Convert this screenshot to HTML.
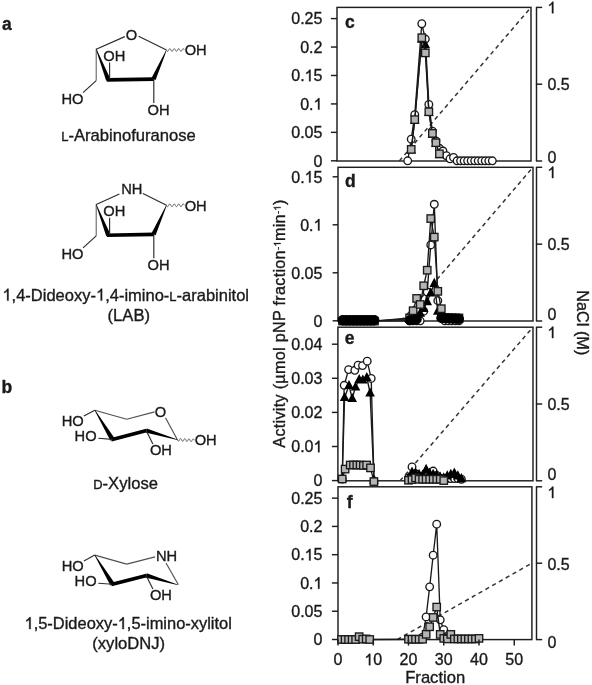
<!DOCTYPE html><html><head><meta charset="utf-8"><style>html,body{margin:0;padding:0;background:#fff;}body{width:592px;height:685px;overflow:hidden;}svg{display:block;will-change:transform;}text{font-family:"Liberation Sans", sans-serif;fill:#1a1a1a;stroke:#1a1a1a;stroke-width:0.35px;}.one{fill-opacity:0;stroke-opacity:0;}</style></head><body>
<svg width="592" height="685" viewBox="0 0 592 685">
<rect width="592" height="685" fill="#fff"/>
<text x="2.0" y="30.2" font-size="17.5" text-anchor="start" font-weight="bold" fill="#000">a</text>
<text x="1.4" y="392.9" font-size="17.5" text-anchor="start" font-weight="bold" fill="#000">b</text>
<line x1="96.20" y1="49.20" x2="124.80" y2="36.60" stroke="#2a2a2a" stroke-width="1.15"/>
<line x1="138.60" y1="36.20" x2="166.50" y2="50.00" stroke="#2a2a2a" stroke-width="1.15"/>
<text x="131.5" y="40.1" font-size="14.7" text-anchor="middle" font-weight="normal" >O</text>
<line x1="96.20" y1="48.70" x2="96.20" y2="80.60" stroke="#555" stroke-width="1.0"/>
<line x1="96.20" y1="80.60" x2="83.00" y2="92.60" stroke="#2a2a2a" stroke-width="1.15"/>
<text x="61.4" y="103.6" font-size="14.7" text-anchor="start" font-weight="normal" >HO</text>
<polygon points="95.92,49.31 106.16,80.74 110.44,79.06 96.48,49.09" fill="#000"/>
<polygon points="155.60,80.04 166.77,50.12 166.23,49.88 151.40,78.16" fill="#000"/>
<line x1="106.80" y1="79.90" x2="154.00" y2="79.10" stroke="#000" stroke-width="3.6"/>
<line x1="109.60" y1="78.90" x2="109.60" y2="62.50" stroke="#2a2a2a" stroke-width="1.15"/>
<text x="103.3" y="60.6" font-size="14.7" text-anchor="start" font-weight="normal" >OH</text>
<line x1="153.80" y1="79.10" x2="153.80" y2="103.00" stroke="#2a2a2a" stroke-width="1.15"/>
<text x="147.6" y="115.0" font-size="14.7" text-anchor="start" font-weight="normal" >OH</text>
<polyline points="166.50,50.00 166.80,50.57 167.09,51.04 167.39,51.33 167.69,51.39 167.98,51.21 168.28,50.82 168.58,50.29 168.87,49.71 169.17,49.18 169.47,48.79 169.76,48.61 170.06,48.67 170.36,48.96 170.65,49.43 170.95,50.00 171.25,50.57 171.54,51.04 171.84,51.33 172.14,51.39 172.43,51.21 172.73,50.82 173.03,50.29 173.32,49.71 173.62,49.18 173.92,48.79 174.21,48.61 174.51,48.67 174.81,48.96 175.10,49.43 175.40,50.00 175.70,50.57 175.99,51.04 176.29,51.33 176.59,51.39 176.88,51.21 177.18,50.82 177.48,50.29 177.77,49.71 178.07,49.18 178.37,48.79 178.66,48.61 178.96,48.67 179.26,48.96 179.55,49.43 179.85,50.00 180.15,50.57 180.44,51.04 180.74,51.33 181.04,51.39 181.33,51.21 181.63,50.82 181.93,50.29 182.22,49.71 182.52,49.18 182.82,48.79 183.11,48.61 183.41,48.67 183.71,48.96 184.00,49.43 184.30,50.00" fill="none" stroke="#555" stroke-width="0.95"/>
<text x="184.7" y="55.2" font-size="14.7" text-anchor="start" font-weight="normal" >OH</text>
<line x1="96.20" y1="204.50" x2="119.40" y2="194.10" stroke="#2a2a2a" stroke-width="1.15"/>
<line x1="142.90" y1="193.60" x2="166.50" y2="205.30" stroke="#2a2a2a" stroke-width="1.15"/>
<text x="121.2" y="194.2" font-size="14.7" text-anchor="start" font-weight="normal" >NH</text>
<line x1="96.20" y1="204.00" x2="96.20" y2="235.90" stroke="#555" stroke-width="1.0"/>
<line x1="96.20" y1="235.90" x2="83.00" y2="247.90" stroke="#2a2a2a" stroke-width="1.15"/>
<text x="61.4" y="258.9" font-size="14.7" text-anchor="start" font-weight="normal" >HO</text>
<polygon points="95.92,204.61 106.16,236.04 110.44,234.36 96.48,204.39" fill="#000"/>
<polygon points="155.60,235.34 166.77,205.42 166.23,205.18 151.40,233.46" fill="#000"/>
<line x1="106.80" y1="235.20" x2="154.00" y2="234.40" stroke="#000" stroke-width="3.6"/>
<line x1="109.60" y1="234.20" x2="109.60" y2="217.80" stroke="#2a2a2a" stroke-width="1.15"/>
<text x="103.3" y="215.9" font-size="14.7" text-anchor="start" font-weight="normal" >OH</text>
<line x1="153.80" y1="234.40" x2="153.80" y2="258.30" stroke="#2a2a2a" stroke-width="1.15"/>
<text x="147.6" y="270.3" font-size="14.7" text-anchor="start" font-weight="normal" >OH</text>
<polyline points="166.50,205.30 166.80,205.87 167.09,206.34 167.39,206.63 167.69,206.69 167.98,206.51 168.28,206.12 168.58,205.59 168.87,205.01 169.17,204.48 169.47,204.09 169.76,203.91 170.06,203.97 170.36,204.26 170.65,204.73 170.95,205.30 171.25,205.87 171.54,206.34 171.84,206.63 172.14,206.69 172.43,206.51 172.73,206.12 173.03,205.59 173.32,205.01 173.62,204.48 173.92,204.09 174.21,203.91 174.51,203.97 174.81,204.26 175.10,204.73 175.40,205.30 175.70,205.87 175.99,206.34 176.29,206.63 176.59,206.69 176.88,206.51 177.18,206.12 177.48,205.59 177.77,205.01 178.07,204.48 178.37,204.09 178.66,203.91 178.96,203.97 179.26,204.26 179.55,204.73 179.85,205.30 180.15,205.87 180.44,206.34 180.74,206.63 181.04,206.69 181.33,206.51 181.63,206.12 181.93,205.59 182.22,205.01 182.52,204.48 182.82,204.09 183.11,203.91 183.41,203.97 183.71,204.26 184.00,204.73 184.30,205.30" fill="none" stroke="#555" stroke-width="0.95"/>
<text x="184.7" y="210.5" font-size="14.7" text-anchor="start" font-weight="normal" >OH</text>
<line x1="94.80" y1="410.20" x2="126.70" y2="419.20" stroke="#505050" stroke-width="1.15"/>
<line x1="126.70" y1="419.20" x2="154.60" y2="411.90" stroke="#505050" stroke-width="1.15"/>
<text x="160.5" y="416.5" font-size="14.7" text-anchor="middle" font-weight="normal" >O</text>
<line x1="165.50" y1="417.80" x2="177.40" y2="439.80" stroke="#505050" stroke-width="1.15"/>
<polyline points="177.40,439.80 177.68,440.38 177.96,440.86 178.25,441.16 178.53,441.23 178.81,441.05 179.09,440.67 179.37,440.15 179.65,439.58 179.94,439.05 180.22,438.67 180.50,438.50 180.78,438.57 181.06,438.87 181.34,439.35 181.62,439.93 181.91,440.50 182.19,440.98 182.47,441.28 182.75,441.35 183.03,441.18 183.31,440.80 183.60,440.27 183.88,439.70 184.16,439.18 184.44,438.80 184.72,438.62 185.00,438.69 185.29,438.99 185.57,439.47 185.85,440.05 186.13,440.63 186.41,441.11 186.70,441.41 186.98,441.48 187.26,441.30 187.54,440.92 187.82,440.40 188.10,439.83 188.39,439.30 188.67,438.92 188.95,438.75 189.23,438.82 189.51,439.12 189.79,439.60 190.08,440.18 190.36,440.75 190.64,441.23 190.92,441.53 191.20,441.60 191.48,441.43 191.77,441.05 192.05,440.52 192.33,439.95 192.61,439.43 192.89,439.05 193.17,438.87 193.46,438.94 193.74,439.24 194.02,439.72 194.30,440.30" fill="none" stroke="#555" stroke-width="0.95"/>
<text x="194.7" y="444.6" font-size="14.7" text-anchor="start" font-weight="normal" >OH</text>
<line x1="94.80" y1="410.20" x2="83.90" y2="416.00" stroke="#2a2a2a" stroke-width="1.15"/>
<text x="61.7" y="426.4" font-size="14.7" text-anchor="start" font-weight="normal" >HO</text>
<polygon points="94.54,410.36 110.45,440.64 114.55,438.16 95.06,410.04" fill="#000"/>
<line x1="111.30" y1="439.70" x2="146.60" y2="430.50" stroke="#000" stroke-width="3.6"/>
<polygon points="145.47,432.61 177.31,440.09 177.49,439.51 146.73,428.39" fill="#000"/>
<line x1="112.50" y1="439.40" x2="98.30" y2="438.30" stroke="#2a2a2a" stroke-width="1.15"/>
<text x="74.6" y="441.2" font-size="14.7" text-anchor="start" font-weight="normal" >HO</text>
<line x1="146.10" y1="430.50" x2="152.90" y2="444.00" stroke="#2a2a2a" stroke-width="1.15"/>
<text x="149.9" y="454.8" font-size="14.7" text-anchor="start" font-weight="normal" >OH</text>
<line x1="94.80" y1="555.10" x2="126.70" y2="564.10" stroke="#505050" stroke-width="1.15"/>
<line x1="126.70" y1="564.10" x2="155.10" y2="556.90" stroke="#505050" stroke-width="1.15"/>
<text x="155.9" y="560.7" font-size="14.7" text-anchor="start" font-weight="normal" >NH</text>
<line x1="166.00" y1="563.00" x2="178.40" y2="584.70" stroke="#505050" stroke-width="1.15"/>
<line x1="94.80" y1="555.10" x2="83.90" y2="560.90" stroke="#2a2a2a" stroke-width="1.15"/>
<text x="61.7" y="571.3" font-size="14.7" text-anchor="start" font-weight="normal" >HO</text>
<polygon points="94.54,555.26 110.45,585.54 114.55,583.06 95.06,554.94" fill="#000"/>
<line x1="111.30" y1="584.60" x2="146.60" y2="575.40" stroke="#000" stroke-width="3.6"/>
<polygon points="145.47,577.51 177.31,584.99 177.49,584.41 146.73,573.29" fill="#000"/>
<line x1="112.50" y1="584.30" x2="98.30" y2="583.20" stroke="#2a2a2a" stroke-width="1.15"/>
<text x="74.6" y="586.1" font-size="14.7" text-anchor="start" font-weight="normal" >HO</text>
<line x1="146.10" y1="575.40" x2="152.90" y2="588.90" stroke="#2a2a2a" stroke-width="1.15"/>
<text x="149.9" y="599.7" font-size="14.7" text-anchor="start" font-weight="normal" >OH</text>
<text x="61.2" y="141.2" font-size="16.6" text-anchor="start" font-weight="normal" ><tspan font-size="13">L</tspan>-Arabinofuranose</text>
<text x="2.4" y="300.6" font-size="16.5" text-anchor="start" font-weight="normal" ><tspan class="one">1</tspan>,4-Dideoxy-<tspan class="one">1</tspan>,4-imino-<tspan font-size="13">L</tspan>-arabinitol</text>
<text x="128.8" y="320.9" font-size="16.6" text-anchor="middle" font-weight="normal" >(LAB)</text>
<text x="93.2" y="488.9" font-size="16.6" text-anchor="start" font-weight="normal" ><tspan font-size="13">D</tspan>-Xylose</text>
<text x="128.2" y="629.0" font-size="16.45" text-anchor="middle" font-weight="normal" ><tspan class="one">1</tspan>,5-Dideoxy-<tspan class="one">1</tspan>,5-imino-xylitol</text>
<text x="128.7" y="649.1" font-size="16.6" text-anchor="middle" font-weight="normal" >(xyloDNJ)</text>
<rect x="337.0" y="7.4" width="194.0" height="153.6" fill="none" stroke="#1e1e1e" stroke-width="1.45"/>
<line x1="330.90" y1="18.60" x2="337.00" y2="18.60" stroke="#1e1e1e" stroke-width="1.45"/>
<text x="322.4" y="24.300000000000022" font-size="16" text-anchor="end" font-weight="normal" >0.25</text>
<line x1="330.90" y1="47.04" x2="337.00" y2="47.04" stroke="#1e1e1e" stroke-width="1.45"/>
<text x="322.4" y="52.74000000000002" font-size="16" text-anchor="end" font-weight="normal" >0.2</text>
<line x1="330.90" y1="75.48" x2="337.00" y2="75.48" stroke="#1e1e1e" stroke-width="1.45"/>
<text x="322.4" y="81.18000000000002" font-size="16" text-anchor="end" font-weight="normal" >0.<tspan class="one">1</tspan>5</text>
<line x1="330.90" y1="103.92" x2="337.00" y2="103.92" stroke="#1e1e1e" stroke-width="1.45"/>
<text x="322.4" y="109.62000000000002" font-size="16" text-anchor="end" font-weight="normal" >0.<tspan class="one">1</tspan></text>
<line x1="330.90" y1="132.36" x2="337.00" y2="132.36" stroke="#1e1e1e" stroke-width="1.45"/>
<text x="322.4" y="138.06" font-size="16" text-anchor="end" font-weight="normal" >0.05</text>
<line x1="330.90" y1="160.80" x2="337.00" y2="160.80" stroke="#1e1e1e" stroke-width="1.45"/>
<text x="322.4" y="166.5" font-size="16" text-anchor="end" font-weight="normal" >0</text>
<line x1="536.50" y1="7.40" x2="536.50" y2="161.00" stroke="#1e1e1e" stroke-width="1.45"/>
<line x1="535.90" y1="7.40" x2="542.20" y2="7.40" stroke="#1e1e1e" stroke-width="1.45"/>
<text x="547.4" y="13.3" font-size="16" text-anchor="start" font-weight="normal" ><tspan class="one">1</tspan></text>
<line x1="535.90" y1="84.20" x2="542.20" y2="84.20" stroke="#1e1e1e" stroke-width="1.45"/>
<text x="547.4" y="90.3" font-size="16" text-anchor="start" font-weight="normal" >0.5</text>
<line x1="535.90" y1="161.00" x2="542.20" y2="161.00" stroke="#1e1e1e" stroke-width="1.45"/>
<text x="547.4" y="163.3" font-size="16" text-anchor="start" font-weight="normal" >0</text>
<rect x="338.0" y="167.3" width="195.0" height="153.7" fill="none" stroke="#1e1e1e" stroke-width="1.45"/>
<line x1="332.60" y1="176.80" x2="338.00" y2="176.80" stroke="#1e1e1e" stroke-width="1.45"/>
<text x="322.4" y="182.5" font-size="16" text-anchor="end" font-weight="normal" >0.<tspan class="one">1</tspan>5</text>
<line x1="332.60" y1="224.80" x2="338.00" y2="224.80" stroke="#1e1e1e" stroke-width="1.45"/>
<text x="322.4" y="230.5" font-size="16" text-anchor="end" font-weight="normal" >0.<tspan class="one">1</tspan></text>
<line x1="332.60" y1="272.80" x2="338.00" y2="272.80" stroke="#1e1e1e" stroke-width="1.45"/>
<text x="322.4" y="278.5" font-size="16" text-anchor="end" font-weight="normal" >0.05</text>
<line x1="332.60" y1="320.80" x2="338.00" y2="320.80" stroke="#1e1e1e" stroke-width="1.45"/>
<text x="322.4" y="326.5" font-size="16" text-anchor="end" font-weight="normal" >0</text>
<line x1="536.50" y1="167.30" x2="536.50" y2="321.00" stroke="#1e1e1e" stroke-width="1.45"/>
<line x1="535.90" y1="167.30" x2="542.20" y2="167.30" stroke="#1e1e1e" stroke-width="1.45"/>
<text x="547.4" y="178.1" font-size="16" text-anchor="start" font-weight="normal" ><tspan class="one">1</tspan></text>
<line x1="535.90" y1="244.15" x2="542.20" y2="244.15" stroke="#1e1e1e" stroke-width="1.45"/>
<text x="547.4" y="250.3" font-size="16" text-anchor="start" font-weight="normal" >0.5</text>
<line x1="535.90" y1="321.00" x2="542.20" y2="321.00" stroke="#1e1e1e" stroke-width="1.45"/>
<text x="547.4" y="320.0" font-size="16" text-anchor="start" font-weight="normal" >0</text>
<rect x="337.9" y="327.2" width="195.10000000000002" height="153.60000000000002" fill="none" stroke="#1e1e1e" stroke-width="1.45"/>
<line x1="331.90" y1="344.20" x2="337.90" y2="344.20" stroke="#1e1e1e" stroke-width="1.45"/>
<text x="322.4" y="349.90000000000003" font-size="16" text-anchor="end" font-weight="normal" >0.04</text>
<line x1="331.90" y1="378.30" x2="337.90" y2="378.30" stroke="#1e1e1e" stroke-width="1.45"/>
<text x="322.4" y="384.0" font-size="16" text-anchor="end" font-weight="normal" >0.03</text>
<line x1="331.90" y1="412.40" x2="337.90" y2="412.40" stroke="#1e1e1e" stroke-width="1.45"/>
<text x="322.4" y="418.1" font-size="16" text-anchor="end" font-weight="normal" >0.02</text>
<line x1="331.90" y1="446.50" x2="337.90" y2="446.50" stroke="#1e1e1e" stroke-width="1.45"/>
<text x="322.4" y="452.2" font-size="16" text-anchor="end" font-weight="normal" >0.0<tspan class="one">1</tspan></text>
<line x1="331.90" y1="480.60" x2="337.90" y2="480.60" stroke="#1e1e1e" stroke-width="1.45"/>
<text x="322.4" y="486.3" font-size="16" text-anchor="end" font-weight="normal" >0</text>
<line x1="536.50" y1="327.20" x2="536.50" y2="480.80" stroke="#1e1e1e" stroke-width="1.45"/>
<line x1="535.90" y1="327.20" x2="542.20" y2="327.20" stroke="#1e1e1e" stroke-width="1.45"/>
<text x="547.4" y="338.1" font-size="16" text-anchor="start" font-weight="normal" ><tspan class="one">1</tspan></text>
<line x1="535.90" y1="404.00" x2="542.20" y2="404.00" stroke="#1e1e1e" stroke-width="1.45"/>
<text x="547.4" y="409.6" font-size="16" text-anchor="start" font-weight="normal" >0.5</text>
<line x1="535.90" y1="480.80" x2="542.20" y2="480.80" stroke="#1e1e1e" stroke-width="1.45"/>
<text x="547.4" y="480.0" font-size="16" text-anchor="start" font-weight="normal" >0</text>
<rect x="338.0" y="486.8" width="193.89999999999998" height="152.8" fill="none" stroke="#1e1e1e" stroke-width="1.45"/>
<line x1="331.90" y1="498.15" x2="338.00" y2="498.15" stroke="#1e1e1e" stroke-width="1.45"/>
<text x="322.4" y="503.84999999999997" font-size="16" text-anchor="end" font-weight="normal" >0.25</text>
<line x1="331.90" y1="526.42" x2="338.00" y2="526.42" stroke="#1e1e1e" stroke-width="1.45"/>
<text x="322.4" y="532.12" font-size="16" text-anchor="end" font-weight="normal" >0.2</text>
<line x1="331.90" y1="554.69" x2="338.00" y2="554.69" stroke="#1e1e1e" stroke-width="1.45"/>
<text x="322.4" y="560.3900000000001" font-size="16" text-anchor="end" font-weight="normal" >0.<tspan class="one">1</tspan>5</text>
<line x1="331.90" y1="582.96" x2="338.00" y2="582.96" stroke="#1e1e1e" stroke-width="1.45"/>
<text x="322.4" y="588.6600000000001" font-size="16" text-anchor="end" font-weight="normal" >0.<tspan class="one">1</tspan></text>
<line x1="331.90" y1="611.23" x2="338.00" y2="611.23" stroke="#1e1e1e" stroke-width="1.45"/>
<text x="322.4" y="616.9300000000001" font-size="16" text-anchor="end" font-weight="normal" >0.05</text>
<line x1="331.90" y1="639.50" x2="338.00" y2="639.50" stroke="#1e1e1e" stroke-width="1.45"/>
<text x="322.4" y="645.2" font-size="16" text-anchor="end" font-weight="normal" >0</text>
<line x1="536.50" y1="486.80" x2="536.50" y2="639.60" stroke="#1e1e1e" stroke-width="1.45"/>
<line x1="535.90" y1="486.80" x2="542.20" y2="486.80" stroke="#1e1e1e" stroke-width="1.45"/>
<text x="547.4" y="498.1" font-size="16" text-anchor="start" font-weight="normal" ><tspan class="one">1</tspan></text>
<line x1="535.90" y1="563.20" x2="542.20" y2="563.20" stroke="#1e1e1e" stroke-width="1.45"/>
<text x="547.4" y="570.3" font-size="16" text-anchor="start" font-weight="normal" >0.5</text>
<line x1="535.90" y1="639.60" x2="542.20" y2="639.60" stroke="#1e1e1e" stroke-width="1.45"/>
<text x="547.4" y="647.9" font-size="16" text-anchor="start" font-weight="normal" >0</text>
<line x1="399.33" y1="161.00" x2="530.90" y2="7.40" stroke="#333" stroke-width="1.5" stroke-dasharray="4.2,3.6"/>
<line x1="401.45" y1="321.00" x2="532.90" y2="167.30" stroke="#333" stroke-width="1.5" stroke-dasharray="4.2,3.6"/>
<line x1="400.04" y1="480.80" x2="532.90" y2="327.20" stroke="#333" stroke-width="1.5" stroke-dasharray="4.2,3.6"/>
<line x1="397.22" y1="639.60" x2="531.80" y2="563.20" stroke="#333" stroke-width="1.5" stroke-dasharray="4.2,3.6"/>
<polyline points="407.70,160.80 411.22,139.19 414.75,114.73 421.80,23.72 425.32,39.08 428.85,104.49 432.38,131.22 435.90,140.89 439.43,148.29 442.95,151.02 446.47,155.74 450.00,158.81 453.52,157.39 457.05,160.80 460.57,160.80 464.10,160.80 467.62,160.80 471.15,160.80 474.68,160.80 478.20,160.80 481.72,160.80 485.25,160.80 488.77,160.80 492.30,160.80" fill="none" stroke="#1a1a1a" stroke-width="1.35" stroke-linejoin="round"/>
<circle cx="407.70" cy="160.80" r="3.8" fill="#fff" stroke="#1a1a1a" stroke-width="1.35"/>
<circle cx="411.22" cy="139.19" r="3.8" fill="#fff" stroke="#1a1a1a" stroke-width="1.35"/>
<circle cx="414.75" cy="114.73" r="3.8" fill="#fff" stroke="#1a1a1a" stroke-width="1.35"/>
<circle cx="421.80" cy="23.72" r="3.8" fill="#fff" stroke="#1a1a1a" stroke-width="1.35"/>
<circle cx="425.32" cy="39.08" r="3.8" fill="#fff" stroke="#1a1a1a" stroke-width="1.35"/>
<circle cx="428.85" cy="104.49" r="3.8" fill="#fff" stroke="#1a1a1a" stroke-width="1.35"/>
<circle cx="432.38" cy="131.22" r="3.8" fill="#fff" stroke="#1a1a1a" stroke-width="1.35"/>
<circle cx="435.90" cy="140.89" r="3.8" fill="#fff" stroke="#1a1a1a" stroke-width="1.35"/>
<circle cx="439.43" cy="148.29" r="3.8" fill="#fff" stroke="#1a1a1a" stroke-width="1.35"/>
<circle cx="442.95" cy="151.02" r="3.8" fill="#fff" stroke="#1a1a1a" stroke-width="1.35"/>
<circle cx="446.47" cy="155.74" r="3.8" fill="#fff" stroke="#1a1a1a" stroke-width="1.35"/>
<circle cx="450.00" cy="158.81" r="3.8" fill="#fff" stroke="#1a1a1a" stroke-width="1.35"/>
<circle cx="453.52" cy="157.39" r="3.8" fill="#fff" stroke="#1a1a1a" stroke-width="1.35"/>
<circle cx="457.05" cy="160.80" r="3.8" fill="#fff" stroke="#1a1a1a" stroke-width="1.35"/>
<circle cx="460.57" cy="160.80" r="3.8" fill="#fff" stroke="#1a1a1a" stroke-width="1.35"/>
<circle cx="464.10" cy="160.80" r="3.8" fill="#fff" stroke="#1a1a1a" stroke-width="1.35"/>
<circle cx="467.62" cy="160.80" r="3.8" fill="#fff" stroke="#1a1a1a" stroke-width="1.35"/>
<circle cx="471.15" cy="160.80" r="3.8" fill="#fff" stroke="#1a1a1a" stroke-width="1.35"/>
<circle cx="474.68" cy="160.80" r="3.8" fill="#fff" stroke="#1a1a1a" stroke-width="1.35"/>
<circle cx="478.20" cy="160.80" r="3.8" fill="#fff" stroke="#1a1a1a" stroke-width="1.35"/>
<circle cx="481.72" cy="160.80" r="3.8" fill="#fff" stroke="#1a1a1a" stroke-width="1.35"/>
<circle cx="485.25" cy="160.80" r="3.8" fill="#fff" stroke="#1a1a1a" stroke-width="1.35"/>
<circle cx="488.77" cy="160.80" r="3.8" fill="#fff" stroke="#1a1a1a" stroke-width="1.35"/>
<circle cx="492.30" cy="160.80" r="3.8" fill="#fff" stroke="#1a1a1a" stroke-width="1.35"/>
<polyline points="411.22,149.99 414.75,120.42 421.80,39.08 425.32,44.76 428.85,112.45 432.38,134.07 435.90,143.17 439.43,154.54" fill="none" stroke="#1a1a1a" stroke-width="1.35" stroke-linejoin="round"/>
<polygon points="411.22,144.39 416.02,153.59 406.42,153.59" fill="#000"/>
<polygon points="414.75,114.82 419.55,124.02 409.95,124.02" fill="#000"/>
<polygon points="421.80,33.48 426.60,42.68 417.00,42.68" fill="#000"/>
<polygon points="425.32,39.16 430.12,48.36 420.52,48.36" fill="#000"/>
<polygon points="428.85,106.85 433.65,116.05 424.05,116.05" fill="#000"/>
<polygon points="432.38,128.47 437.18,137.67 427.57,137.67" fill="#000"/>
<polygon points="435.90,137.57 440.70,146.77 431.10,146.77" fill="#000"/>
<polygon points="439.43,148.94 444.23,158.14 434.62,158.14" fill="#000"/>
<polyline points="411.22,149.42 414.75,119.62 421.80,37.71 425.32,52.90 428.85,111.77 432.38,133.38 435.90,142.71 439.43,153.80" fill="none" stroke="#1a1a1a" stroke-width="1.35" stroke-linejoin="round"/>
<rect x="407.52" y="145.72" width="7.4" height="7.4" fill="#b5b5b5" stroke="#1a1a1a" stroke-width="1.35"/>
<rect x="411.05" y="115.92" width="7.4" height="7.4" fill="#b5b5b5" stroke="#1a1a1a" stroke-width="1.35"/>
<rect x="418.10" y="34.01" width="7.4" height="7.4" fill="#b5b5b5" stroke="#1a1a1a" stroke-width="1.35"/>
<rect x="421.62" y="49.20" width="7.4" height="7.4" fill="#b5b5b5" stroke="#1a1a1a" stroke-width="1.35"/>
<rect x="425.15" y="108.07" width="7.4" height="7.4" fill="#b5b5b5" stroke="#1a1a1a" stroke-width="1.35"/>
<rect x="428.68" y="129.68" width="7.4" height="7.4" fill="#b5b5b5" stroke="#1a1a1a" stroke-width="1.35"/>
<rect x="432.20" y="139.01" width="7.4" height="7.4" fill="#b5b5b5" stroke="#1a1a1a" stroke-width="1.35"/>
<rect x="435.73" y="150.10" width="7.4" height="7.4" fill="#b5b5b5" stroke="#1a1a1a" stroke-width="1.35"/>
<polyline points="342.62,320.80 346.15,320.80 349.68,320.80 353.20,320.80 356.73,320.80 360.25,320.80 363.78,320.80 367.30,320.80 370.83,320.80 374.35,320.80 409.60,320.80 413.12,320.80 416.65,320.80 420.18,320.80 423.70,311.20 427.23,292.00 430.75,244.96 434.28,204.26 437.80,300.64 441.33,316.00 444.85,320.80 448.38,320.80 451.90,320.80 455.43,320.80 458.95,320.80" fill="none" stroke="#1a1a1a" stroke-width="1.35" stroke-linejoin="round"/>
<circle cx="342.62" cy="320.80" r="3.8" fill="#fff" stroke="#1a1a1a" stroke-width="1.35"/>
<circle cx="346.15" cy="320.80" r="3.8" fill="#fff" stroke="#1a1a1a" stroke-width="1.35"/>
<circle cx="349.68" cy="320.80" r="3.8" fill="#fff" stroke="#1a1a1a" stroke-width="1.35"/>
<circle cx="353.20" cy="320.80" r="3.8" fill="#fff" stroke="#1a1a1a" stroke-width="1.35"/>
<circle cx="356.73" cy="320.80" r="3.8" fill="#fff" stroke="#1a1a1a" stroke-width="1.35"/>
<circle cx="360.25" cy="320.80" r="3.8" fill="#fff" stroke="#1a1a1a" stroke-width="1.35"/>
<circle cx="363.78" cy="320.80" r="3.8" fill="#fff" stroke="#1a1a1a" stroke-width="1.35"/>
<circle cx="367.30" cy="320.80" r="3.8" fill="#fff" stroke="#1a1a1a" stroke-width="1.35"/>
<circle cx="370.83" cy="320.80" r="3.8" fill="#fff" stroke="#1a1a1a" stroke-width="1.35"/>
<circle cx="374.35" cy="320.80" r="3.8" fill="#fff" stroke="#1a1a1a" stroke-width="1.35"/>
<circle cx="409.60" cy="320.80" r="3.8" fill="#fff" stroke="#1a1a1a" stroke-width="1.35"/>
<circle cx="413.12" cy="320.80" r="3.8" fill="#fff" stroke="#1a1a1a" stroke-width="1.35"/>
<circle cx="416.65" cy="320.80" r="3.8" fill="#fff" stroke="#1a1a1a" stroke-width="1.35"/>
<circle cx="420.18" cy="320.80" r="3.8" fill="#fff" stroke="#1a1a1a" stroke-width="1.35"/>
<circle cx="423.70" cy="311.20" r="3.8" fill="#fff" stroke="#1a1a1a" stroke-width="1.35"/>
<circle cx="427.23" cy="292.00" r="3.8" fill="#fff" stroke="#1a1a1a" stroke-width="1.35"/>
<circle cx="430.75" cy="244.96" r="3.8" fill="#fff" stroke="#1a1a1a" stroke-width="1.35"/>
<circle cx="434.28" cy="204.26" r="3.8" fill="#fff" stroke="#1a1a1a" stroke-width="1.35"/>
<circle cx="437.80" cy="300.64" r="3.8" fill="#fff" stroke="#1a1a1a" stroke-width="1.35"/>
<circle cx="441.33" cy="316.00" r="3.8" fill="#fff" stroke="#1a1a1a" stroke-width="1.35"/>
<circle cx="444.85" cy="320.80" r="3.8" fill="#fff" stroke="#1a1a1a" stroke-width="1.35"/>
<circle cx="448.38" cy="320.80" r="3.8" fill="#fff" stroke="#1a1a1a" stroke-width="1.35"/>
<circle cx="451.90" cy="320.80" r="3.8" fill="#fff" stroke="#1a1a1a" stroke-width="1.35"/>
<circle cx="455.43" cy="320.80" r="3.8" fill="#fff" stroke="#1a1a1a" stroke-width="1.35"/>
<circle cx="458.95" cy="320.80" r="3.8" fill="#fff" stroke="#1a1a1a" stroke-width="1.35"/>
<polyline points="342.62,320.80 346.15,320.80 349.68,320.80 353.20,320.80 356.73,320.80 360.25,320.80 363.78,320.80 367.30,320.80 370.83,320.80 374.35,320.80 409.60,318.88 413.12,317.92 416.65,316.00 420.18,313.12 423.70,308.32 427.23,301.60 430.75,292.96 434.28,283.46 437.80,311.20 441.33,316.96 444.85,318.88 448.38,318.88 451.90,318.88 455.43,318.88 458.95,318.88" fill="none" stroke="#1a1a1a" stroke-width="1.35" stroke-linejoin="round"/>
<polygon points="342.62,315.20 347.43,324.40 337.82,324.40" fill="#000"/>
<polygon points="346.15,315.20 350.95,324.40 341.35,324.40" fill="#000"/>
<polygon points="349.68,315.20 354.48,324.40 344.88,324.40" fill="#000"/>
<polygon points="353.20,315.20 358.00,324.40 348.40,324.40" fill="#000"/>
<polygon points="356.73,315.20 361.53,324.40 351.93,324.40" fill="#000"/>
<polygon points="360.25,315.20 365.05,324.40 355.45,324.40" fill="#000"/>
<polygon points="363.78,315.20 368.58,324.40 358.98,324.40" fill="#000"/>
<polygon points="367.30,315.20 372.10,324.40 362.50,324.40" fill="#000"/>
<polygon points="370.83,315.20 375.63,324.40 366.03,324.40" fill="#000"/>
<polygon points="374.35,315.20 379.15,324.40 369.55,324.40" fill="#000"/>
<polygon points="409.60,313.28 414.40,322.48 404.80,322.48" fill="#000"/>
<polygon points="413.12,312.32 417.93,321.52 408.32,321.52" fill="#000"/>
<polygon points="416.65,310.40 421.45,319.60 411.85,319.60" fill="#000"/>
<polygon points="420.18,307.52 424.98,316.72 415.38,316.72" fill="#000"/>
<polygon points="423.70,302.72 428.50,311.92 418.90,311.92" fill="#000"/>
<polygon points="427.23,296.00 432.03,305.20 422.43,305.20" fill="#000"/>
<polygon points="430.75,287.36 435.55,296.56 425.95,296.56" fill="#000"/>
<polygon points="434.28,277.86 439.08,287.06 429.48,287.06" fill="#000"/>
<polygon points="437.80,305.60 442.60,314.80 433.00,314.80" fill="#000"/>
<polygon points="441.33,311.36 446.13,320.56 436.53,320.56" fill="#000"/>
<polygon points="444.85,313.28 449.65,322.48 440.05,322.48" fill="#000"/>
<polygon points="448.38,313.28 453.18,322.48 443.57,322.48" fill="#000"/>
<polygon points="451.90,313.28 456.70,322.48 447.10,322.48" fill="#000"/>
<polygon points="455.43,313.28 460.23,322.48 450.62,322.48" fill="#000"/>
<polygon points="458.95,313.28 463.75,322.48 454.15,322.48" fill="#000"/>
<polyline points="342.62,321.09 346.15,321.09 349.68,321.09 353.20,321.09 356.73,321.09 360.25,321.09 363.78,321.09 367.30,321.09 370.83,321.09 374.35,321.09 409.60,317.92 413.12,310.72 416.65,298.43 420.18,304.48 423.70,285.76 427.23,270.21 430.75,218.56 434.28,237.09 437.80,291.33 441.33,308.70 444.85,317.92 448.38,317.92 451.90,317.92 455.43,317.92 458.95,317.92" fill="none" stroke="#1a1a1a" stroke-width="1.35" stroke-linejoin="round"/>
<rect x="338.93" y="317.39" width="7.4" height="7.4" fill="#b5b5b5" stroke="#1a1a1a" stroke-width="1.35"/>
<rect x="342.45" y="317.39" width="7.4" height="7.4" fill="#b5b5b5" stroke="#1a1a1a" stroke-width="1.35"/>
<rect x="345.98" y="317.39" width="7.4" height="7.4" fill="#b5b5b5" stroke="#1a1a1a" stroke-width="1.35"/>
<rect x="349.50" y="317.39" width="7.4" height="7.4" fill="#b5b5b5" stroke="#1a1a1a" stroke-width="1.35"/>
<rect x="353.03" y="317.39" width="7.4" height="7.4" fill="#b5b5b5" stroke="#1a1a1a" stroke-width="1.35"/>
<rect x="356.55" y="317.39" width="7.4" height="7.4" fill="#b5b5b5" stroke="#1a1a1a" stroke-width="1.35"/>
<rect x="360.08" y="317.39" width="7.4" height="7.4" fill="#b5b5b5" stroke="#1a1a1a" stroke-width="1.35"/>
<rect x="363.60" y="317.39" width="7.4" height="7.4" fill="#b5b5b5" stroke="#1a1a1a" stroke-width="1.35"/>
<rect x="367.13" y="317.39" width="7.4" height="7.4" fill="#b5b5b5" stroke="#1a1a1a" stroke-width="1.35"/>
<rect x="370.65" y="317.39" width="7.4" height="7.4" fill="#b5b5b5" stroke="#1a1a1a" stroke-width="1.35"/>
<rect x="405.90" y="314.22" width="7.4" height="7.4" fill="#b5b5b5" stroke="#1a1a1a" stroke-width="1.35"/>
<rect x="409.43" y="307.02" width="7.4" height="7.4" fill="#b5b5b5" stroke="#1a1a1a" stroke-width="1.35"/>
<rect x="412.95" y="294.73" width="7.4" height="7.4" fill="#b5b5b5" stroke="#1a1a1a" stroke-width="1.35"/>
<rect x="416.48" y="300.78" width="7.4" height="7.4" fill="#b5b5b5" stroke="#1a1a1a" stroke-width="1.35"/>
<rect x="420.00" y="282.06" width="7.4" height="7.4" fill="#b5b5b5" stroke="#1a1a1a" stroke-width="1.35"/>
<rect x="423.53" y="266.51" width="7.4" height="7.4" fill="#b5b5b5" stroke="#1a1a1a" stroke-width="1.35"/>
<rect x="427.05" y="214.86" width="7.4" height="7.4" fill="#b5b5b5" stroke="#1a1a1a" stroke-width="1.35"/>
<rect x="430.58" y="233.39" width="7.4" height="7.4" fill="#b5b5b5" stroke="#1a1a1a" stroke-width="1.35"/>
<rect x="434.10" y="287.63" width="7.4" height="7.4" fill="#b5b5b5" stroke="#1a1a1a" stroke-width="1.35"/>
<rect x="437.63" y="305.00" width="7.4" height="7.4" fill="#b5b5b5" stroke="#1a1a1a" stroke-width="1.35"/>
<rect x="441.15" y="314.22" width="7.4" height="7.4" fill="#b5b5b5" stroke="#1a1a1a" stroke-width="1.35"/>
<rect x="444.68" y="314.22" width="7.4" height="7.4" fill="#b5b5b5" stroke="#1a1a1a" stroke-width="1.35"/>
<rect x="448.20" y="314.22" width="7.4" height="7.4" fill="#b5b5b5" stroke="#1a1a1a" stroke-width="1.35"/>
<rect x="451.73" y="314.22" width="7.4" height="7.4" fill="#b5b5b5" stroke="#1a1a1a" stroke-width="1.35"/>
<rect x="455.25" y="314.22" width="7.4" height="7.4" fill="#b5b5b5" stroke="#1a1a1a" stroke-width="1.35"/>
<polyline points="342.62,320.03 346.15,320.03 349.68,320.03 353.20,320.03 356.73,320.03 360.25,320.03 363.78,320.03 367.30,320.03 370.83,320.03 374.35,320.03" fill="none" stroke="#1a1a1a" stroke-width="1.35" stroke-linejoin="round"/>
<circle cx="342.62" cy="320.03" r="4.6" fill="#000" stroke="#000" stroke-width="1"/>
<circle cx="346.15" cy="320.03" r="4.6" fill="#000" stroke="#000" stroke-width="1"/>
<circle cx="349.68" cy="320.03" r="4.6" fill="#000" stroke="#000" stroke-width="1"/>
<circle cx="353.20" cy="320.03" r="4.6" fill="#000" stroke="#000" stroke-width="1"/>
<circle cx="356.73" cy="320.03" r="4.6" fill="#000" stroke="#000" stroke-width="1"/>
<circle cx="360.25" cy="320.03" r="4.6" fill="#000" stroke="#000" stroke-width="1"/>
<circle cx="363.78" cy="320.03" r="4.6" fill="#000" stroke="#000" stroke-width="1"/>
<circle cx="367.30" cy="320.03" r="4.6" fill="#000" stroke="#000" stroke-width="1"/>
<circle cx="370.83" cy="320.03" r="4.6" fill="#000" stroke="#000" stroke-width="1"/>
<circle cx="374.35" cy="320.03" r="4.6" fill="#000" stroke="#000" stroke-width="1"/>
<polyline points="409.60,320.22 413.12,319.84 416.65,319.46" fill="none" stroke="#1a1a1a" stroke-width="1.35" stroke-linejoin="round"/>
<circle cx="409.60" cy="320.22" r="4.6" fill="#000" stroke="#000" stroke-width="1"/>
<circle cx="413.12" cy="319.84" r="4.6" fill="#000" stroke="#000" stroke-width="1"/>
<circle cx="416.65" cy="319.46" r="4.6" fill="#000" stroke="#000" stroke-width="1"/>
<polyline points="441.33,317.92 444.85,318.11 448.38,318.30 451.90,318.50 455.43,318.69 458.95,318.88" fill="none" stroke="#1a1a1a" stroke-width="1.35" stroke-linejoin="round"/>
<circle cx="441.33" cy="317.92" r="4.6" fill="#000" stroke="#000" stroke-width="1"/>
<circle cx="444.85" cy="318.11" r="4.6" fill="#000" stroke="#000" stroke-width="1"/>
<circle cx="448.38" cy="318.30" r="4.6" fill="#000" stroke="#000" stroke-width="1"/>
<circle cx="451.90" cy="318.50" r="4.6" fill="#000" stroke="#000" stroke-width="1"/>
<circle cx="455.43" cy="318.69" r="4.6" fill="#000" stroke="#000" stroke-width="1"/>
<circle cx="458.95" cy="318.88" r="4.6" fill="#000" stroke="#000" stroke-width="1"/>
<polyline points="342.20,479.00 344.20,385.30 348.60,369.60 354.80,370.30 358.10,365.20 362.50,365.60 367.20,361.20 371.20,378.40 374.00,481.00" fill="none" stroke="#1a1a1a" stroke-width="1.35" stroke-linejoin="round"/>
<circle cx="342.20" cy="479.00" r="3.8" fill="#fff" stroke="#1a1a1a" stroke-width="1.35"/>
<circle cx="344.20" cy="385.30" r="3.8" fill="#fff" stroke="#1a1a1a" stroke-width="1.35"/>
<circle cx="348.60" cy="369.60" r="3.8" fill="#fff" stroke="#1a1a1a" stroke-width="1.35"/>
<circle cx="354.80" cy="370.30" r="3.8" fill="#fff" stroke="#1a1a1a" stroke-width="1.35"/>
<circle cx="358.10" cy="365.20" r="3.8" fill="#fff" stroke="#1a1a1a" stroke-width="1.35"/>
<circle cx="362.50" cy="365.60" r="3.8" fill="#fff" stroke="#1a1a1a" stroke-width="1.35"/>
<circle cx="367.20" cy="361.20" r="3.8" fill="#fff" stroke="#1a1a1a" stroke-width="1.35"/>
<circle cx="371.20" cy="378.40" r="3.8" fill="#fff" stroke="#1a1a1a" stroke-width="1.35"/>
<circle cx="374.00" cy="481.00" r="3.8" fill="#fff" stroke="#1a1a1a" stroke-width="1.35"/>
<polyline points="342.20,478.20 344.60,397.50 349.00,385.50 352.20,398.50 355.50,387.00 359.20,379.50 362.80,380.00 366.80,377.50 370.10,393.00 374.00,480.40" fill="none" stroke="#1a1a1a" stroke-width="1.35" stroke-linejoin="round"/>
<polygon points="342.20,472.60 347.00,481.80 337.40,481.80" fill="#000"/>
<polygon points="344.60,391.90 349.40,401.10 339.80,401.10" fill="#000"/>
<polygon points="349.00,379.90 353.80,389.10 344.20,389.10" fill="#000"/>
<polygon points="352.20,392.90 357.00,402.10 347.40,402.10" fill="#000"/>
<polygon points="355.50,381.40 360.30,390.60 350.70,390.60" fill="#000"/>
<polygon points="359.20,373.90 364.00,383.10 354.40,383.10" fill="#000"/>
<polygon points="362.80,374.40 367.60,383.60 358.00,383.60" fill="#000"/>
<polygon points="366.80,371.90 371.60,381.10 362.00,381.10" fill="#000"/>
<polygon points="370.10,387.40 374.90,396.60 365.30,396.60" fill="#000"/>
<polygon points="374.00,474.80 378.80,484.00 369.20,484.00" fill="#000"/>
<polyline points="342.20,479.00 345.10,469.10 350.20,465.00 353.50,465.00 356.80,465.00 360.10,465.00 363.40,465.50 366.60,465.00 370.50,467.90 373.90,481.60" fill="none" stroke="#1a1a1a" stroke-width="1.35" stroke-linejoin="round"/>
<rect x="338.50" y="475.30" width="7.4" height="7.4" fill="#b5b5b5" stroke="#1a1a1a" stroke-width="1.35"/>
<rect x="341.40" y="465.40" width="7.4" height="7.4" fill="#b5b5b5" stroke="#1a1a1a" stroke-width="1.35"/>
<rect x="346.50" y="461.30" width="7.4" height="7.4" fill="#b5b5b5" stroke="#1a1a1a" stroke-width="1.35"/>
<rect x="349.80" y="461.30" width="7.4" height="7.4" fill="#b5b5b5" stroke="#1a1a1a" stroke-width="1.35"/>
<rect x="353.10" y="461.30" width="7.4" height="7.4" fill="#b5b5b5" stroke="#1a1a1a" stroke-width="1.35"/>
<rect x="356.40" y="461.30" width="7.4" height="7.4" fill="#b5b5b5" stroke="#1a1a1a" stroke-width="1.35"/>
<rect x="359.70" y="461.80" width="7.4" height="7.4" fill="#b5b5b5" stroke="#1a1a1a" stroke-width="1.35"/>
<rect x="362.90" y="461.30" width="7.4" height="7.4" fill="#b5b5b5" stroke="#1a1a1a" stroke-width="1.35"/>
<rect x="366.80" y="464.20" width="7.4" height="7.4" fill="#b5b5b5" stroke="#1a1a1a" stroke-width="1.35"/>
<rect x="370.20" y="477.90" width="7.4" height="7.4" fill="#b5b5b5" stroke="#1a1a1a" stroke-width="1.35"/>
<polyline points="408.50,477.87 412.02,466.96 415.55,473.78 419.07,476.51 422.60,477.19 426.12,476.51 429.65,474.46 433.18,471.05 436.70,475.49 440.23,478.55 443.75,478.55 447.27,478.55 450.80,478.55 454.32,478.55 457.85,478.55 461.38,479.24" fill="none" stroke="#1a1a1a" stroke-width="1.35" stroke-linejoin="round"/>
<circle cx="408.50" cy="477.87" r="3.8" fill="#fff" stroke="#1a1a1a" stroke-width="1.35"/>
<circle cx="412.02" cy="466.96" r="3.8" fill="#fff" stroke="#1a1a1a" stroke-width="1.35"/>
<circle cx="415.55" cy="473.78" r="3.8" fill="#fff" stroke="#1a1a1a" stroke-width="1.35"/>
<circle cx="419.07" cy="476.51" r="3.8" fill="#fff" stroke="#1a1a1a" stroke-width="1.35"/>
<circle cx="422.60" cy="477.19" r="3.8" fill="#fff" stroke="#1a1a1a" stroke-width="1.35"/>
<circle cx="426.12" cy="476.51" r="3.8" fill="#fff" stroke="#1a1a1a" stroke-width="1.35"/>
<circle cx="429.65" cy="474.46" r="3.8" fill="#fff" stroke="#1a1a1a" stroke-width="1.35"/>
<circle cx="433.18" cy="471.05" r="3.8" fill="#fff" stroke="#1a1a1a" stroke-width="1.35"/>
<circle cx="436.70" cy="475.49" r="3.8" fill="#fff" stroke="#1a1a1a" stroke-width="1.35"/>
<circle cx="440.23" cy="478.55" r="3.8" fill="#fff" stroke="#1a1a1a" stroke-width="1.35"/>
<circle cx="443.75" cy="478.55" r="3.8" fill="#fff" stroke="#1a1a1a" stroke-width="1.35"/>
<circle cx="447.27" cy="478.55" r="3.8" fill="#fff" stroke="#1a1a1a" stroke-width="1.35"/>
<circle cx="450.80" cy="478.55" r="3.8" fill="#fff" stroke="#1a1a1a" stroke-width="1.35"/>
<circle cx="454.32" cy="478.55" r="3.8" fill="#fff" stroke="#1a1a1a" stroke-width="1.35"/>
<circle cx="457.85" cy="478.55" r="3.8" fill="#fff" stroke="#1a1a1a" stroke-width="1.35"/>
<circle cx="461.38" cy="479.24" r="3.8" fill="#fff" stroke="#1a1a1a" stroke-width="1.35"/>
<polyline points="408.50,477.87 412.02,472.08 415.55,473.10 419.07,474.46 422.60,475.14 426.12,469.35 429.65,473.10 433.18,474.46 436.70,475.14 440.23,477.19 443.75,477.87 447.27,475.83 450.80,474.46 454.32,473.10 457.85,475.83 461.38,478.55" fill="none" stroke="#1a1a1a" stroke-width="1.35" stroke-linejoin="round"/>
<polygon points="408.50,472.27 413.30,481.47 403.70,481.47" fill="#000"/>
<polygon points="412.02,466.48 416.82,475.68 407.22,475.68" fill="#000"/>
<polygon points="415.55,467.50 420.35,476.70 410.75,476.70" fill="#000"/>
<polygon points="419.07,468.86 423.88,478.06 414.27,478.06" fill="#000"/>
<polygon points="422.60,469.54 427.40,478.74 417.80,478.74" fill="#000"/>
<polygon points="426.12,463.75 430.93,472.95 421.32,472.95" fill="#000"/>
<polygon points="429.65,467.50 434.45,476.70 424.85,476.70" fill="#000"/>
<polygon points="433.18,468.86 437.98,478.06 428.38,478.06" fill="#000"/>
<polygon points="436.70,469.54 441.50,478.74 431.90,478.74" fill="#000"/>
<polygon points="440.23,471.59 445.03,480.79 435.43,480.79" fill="#000"/>
<polygon points="443.75,472.27 448.55,481.47 438.95,481.47" fill="#000"/>
<polygon points="447.27,470.23 452.07,479.43 442.47,479.43" fill="#000"/>
<polygon points="450.80,468.86 455.60,478.06 446.00,478.06" fill="#000"/>
<polygon points="454.32,467.50 459.12,476.70 449.52,476.70" fill="#000"/>
<polygon points="457.85,470.23 462.65,479.43 453.05,479.43" fill="#000"/>
<polygon points="461.38,472.95 466.18,482.15 456.57,482.15" fill="#000"/>
<polyline points="408.50,480.26 412.02,479.58 415.55,477.87 419.07,479.24 422.60,479.24 426.12,479.24 429.65,479.24 433.18,479.24 436.70,479.24 440.23,479.24 443.75,480.60" fill="none" stroke="#1a1a1a" stroke-width="1.35" stroke-linejoin="round"/>
<rect x="404.80" y="476.56" width="7.4" height="7.4" fill="#b5b5b5" stroke="#1a1a1a" stroke-width="1.35"/>
<rect x="408.32" y="475.88" width="7.4" height="7.4" fill="#b5b5b5" stroke="#1a1a1a" stroke-width="1.35"/>
<rect x="411.85" y="474.17" width="7.4" height="7.4" fill="#b5b5b5" stroke="#1a1a1a" stroke-width="1.35"/>
<rect x="415.38" y="475.54" width="7.4" height="7.4" fill="#b5b5b5" stroke="#1a1a1a" stroke-width="1.35"/>
<rect x="418.90" y="475.54" width="7.4" height="7.4" fill="#b5b5b5" stroke="#1a1a1a" stroke-width="1.35"/>
<rect x="422.43" y="475.54" width="7.4" height="7.4" fill="#b5b5b5" stroke="#1a1a1a" stroke-width="1.35"/>
<rect x="425.95" y="475.54" width="7.4" height="7.4" fill="#b5b5b5" stroke="#1a1a1a" stroke-width="1.35"/>
<rect x="429.48" y="475.54" width="7.4" height="7.4" fill="#b5b5b5" stroke="#1a1a1a" stroke-width="1.35"/>
<rect x="433.00" y="475.54" width="7.4" height="7.4" fill="#b5b5b5" stroke="#1a1a1a" stroke-width="1.35"/>
<rect x="436.53" y="475.54" width="7.4" height="7.4" fill="#b5b5b5" stroke="#1a1a1a" stroke-width="1.35"/>
<rect x="440.05" y="476.90" width="7.4" height="7.4" fill="#b5b5b5" stroke="#1a1a1a" stroke-width="1.35"/>
<polyline points="422.60,637.24 426.12,616.88 429.65,586.86 433.18,555.20 436.70,524.21 440.23,619.82 443.75,629.66 447.27,636.67 450.80,638.37" fill="none" stroke="#1a1a1a" stroke-width="1.35" stroke-linejoin="round"/>
<circle cx="422.60" cy="637.24" r="3.8" fill="#fff" stroke="#1a1a1a" stroke-width="1.35"/>
<circle cx="426.12" cy="616.88" r="3.8" fill="#fff" stroke="#1a1a1a" stroke-width="1.35"/>
<circle cx="429.65" cy="586.86" r="3.8" fill="#fff" stroke="#1a1a1a" stroke-width="1.35"/>
<circle cx="433.18" cy="555.20" r="3.8" fill="#fff" stroke="#1a1a1a" stroke-width="1.35"/>
<circle cx="436.70" cy="524.21" r="3.8" fill="#fff" stroke="#1a1a1a" stroke-width="1.35"/>
<circle cx="440.23" cy="619.82" r="3.8" fill="#fff" stroke="#1a1a1a" stroke-width="1.35"/>
<circle cx="443.75" cy="629.66" r="3.8" fill="#fff" stroke="#1a1a1a" stroke-width="1.35"/>
<circle cx="447.27" cy="636.67" r="3.8" fill="#fff" stroke="#1a1a1a" stroke-width="1.35"/>
<circle cx="450.80" cy="638.37" r="3.8" fill="#fff" stroke="#1a1a1a" stroke-width="1.35"/>
<polyline points="341.52,639.50 345.05,639.50 348.57,639.50 352.10,639.50 355.62,639.50 359.15,636.67 362.68,639.22 366.20,638.93 369.73,639.50 408.50,639.22 412.02,639.22 415.55,639.22 419.07,639.22 422.60,639.22 426.12,634.30 429.65,626.78 433.18,617.45 436.70,607.05 440.23,634.41 443.75,638.37 447.27,638.93 450.80,634.41 454.32,638.93 457.85,638.93 461.38,638.93 464.90,638.93 468.42,638.93 471.95,638.93 475.48,638.93 479.00,638.37" fill="none" stroke="#1a1a1a" stroke-width="1.35" stroke-linejoin="round"/>
<rect x="337.82" y="635.80" width="7.4" height="7.4" fill="#b5b5b5" stroke="#1a1a1a" stroke-width="1.35"/>
<rect x="341.35" y="635.80" width="7.4" height="7.4" fill="#b5b5b5" stroke="#1a1a1a" stroke-width="1.35"/>
<rect x="344.88" y="635.80" width="7.4" height="7.4" fill="#b5b5b5" stroke="#1a1a1a" stroke-width="1.35"/>
<rect x="348.40" y="635.80" width="7.4" height="7.4" fill="#b5b5b5" stroke="#1a1a1a" stroke-width="1.35"/>
<rect x="351.93" y="635.80" width="7.4" height="7.4" fill="#b5b5b5" stroke="#1a1a1a" stroke-width="1.35"/>
<rect x="355.45" y="632.97" width="7.4" height="7.4" fill="#b5b5b5" stroke="#1a1a1a" stroke-width="1.35"/>
<rect x="358.98" y="635.52" width="7.4" height="7.4" fill="#b5b5b5" stroke="#1a1a1a" stroke-width="1.35"/>
<rect x="362.50" y="635.23" width="7.4" height="7.4" fill="#b5b5b5" stroke="#1a1a1a" stroke-width="1.35"/>
<rect x="366.03" y="635.80" width="7.4" height="7.4" fill="#b5b5b5" stroke="#1a1a1a" stroke-width="1.35"/>
<rect x="404.80" y="635.52" width="7.4" height="7.4" fill="#b5b5b5" stroke="#1a1a1a" stroke-width="1.35"/>
<rect x="408.32" y="635.52" width="7.4" height="7.4" fill="#b5b5b5" stroke="#1a1a1a" stroke-width="1.35"/>
<rect x="411.85" y="635.52" width="7.4" height="7.4" fill="#b5b5b5" stroke="#1a1a1a" stroke-width="1.35"/>
<rect x="415.38" y="635.52" width="7.4" height="7.4" fill="#b5b5b5" stroke="#1a1a1a" stroke-width="1.35"/>
<rect x="418.90" y="635.52" width="7.4" height="7.4" fill="#b5b5b5" stroke="#1a1a1a" stroke-width="1.35"/>
<rect x="422.43" y="630.60" width="7.4" height="7.4" fill="#b5b5b5" stroke="#1a1a1a" stroke-width="1.35"/>
<rect x="425.95" y="623.08" width="7.4" height="7.4" fill="#b5b5b5" stroke="#1a1a1a" stroke-width="1.35"/>
<rect x="429.48" y="613.75" width="7.4" height="7.4" fill="#b5b5b5" stroke="#1a1a1a" stroke-width="1.35"/>
<rect x="433.00" y="603.35" width="7.4" height="7.4" fill="#b5b5b5" stroke="#1a1a1a" stroke-width="1.35"/>
<rect x="436.53" y="630.71" width="7.4" height="7.4" fill="#b5b5b5" stroke="#1a1a1a" stroke-width="1.35"/>
<rect x="440.05" y="634.67" width="7.4" height="7.4" fill="#b5b5b5" stroke="#1a1a1a" stroke-width="1.35"/>
<rect x="443.57" y="635.23" width="7.4" height="7.4" fill="#b5b5b5" stroke="#1a1a1a" stroke-width="1.35"/>
<rect x="447.10" y="630.71" width="7.4" height="7.4" fill="#b5b5b5" stroke="#1a1a1a" stroke-width="1.35"/>
<rect x="450.62" y="635.23" width="7.4" height="7.4" fill="#b5b5b5" stroke="#1a1a1a" stroke-width="1.35"/>
<rect x="454.15" y="635.23" width="7.4" height="7.4" fill="#b5b5b5" stroke="#1a1a1a" stroke-width="1.35"/>
<rect x="457.68" y="635.23" width="7.4" height="7.4" fill="#b5b5b5" stroke="#1a1a1a" stroke-width="1.35"/>
<rect x="461.20" y="635.23" width="7.4" height="7.4" fill="#b5b5b5" stroke="#1a1a1a" stroke-width="1.35"/>
<rect x="464.72" y="635.23" width="7.4" height="7.4" fill="#b5b5b5" stroke="#1a1a1a" stroke-width="1.35"/>
<rect x="468.25" y="635.23" width="7.4" height="7.4" fill="#b5b5b5" stroke="#1a1a1a" stroke-width="1.35"/>
<rect x="471.78" y="635.23" width="7.4" height="7.4" fill="#b5b5b5" stroke="#1a1a1a" stroke-width="1.35"/>
<rect x="475.30" y="634.67" width="7.4" height="7.4" fill="#b5b5b5" stroke="#1a1a1a" stroke-width="1.35"/>
<line x1="338.00" y1="639.60" x2="338.00" y2="645.60" stroke="#1e1e1e" stroke-width="1.45"/>
<text x="338.0" y="665.2" font-size="16" text-anchor="middle" font-weight="normal" >0</text>
<line x1="373.25" y1="639.60" x2="373.25" y2="645.60" stroke="#1e1e1e" stroke-width="1.45"/>
<text x="373.25" y="665.2" font-size="16" text-anchor="middle" font-weight="normal" ><tspan class="one">1</tspan>0</text>
<line x1="408.50" y1="639.60" x2="408.50" y2="645.60" stroke="#1e1e1e" stroke-width="1.45"/>
<text x="408.5" y="665.2" font-size="16" text-anchor="middle" font-weight="normal" >20</text>
<line x1="443.75" y1="639.60" x2="443.75" y2="645.60" stroke="#1e1e1e" stroke-width="1.45"/>
<text x="443.75" y="665.2" font-size="16" text-anchor="middle" font-weight="normal" >30</text>
<line x1="479.00" y1="639.60" x2="479.00" y2="645.60" stroke="#1e1e1e" stroke-width="1.45"/>
<text x="479.0" y="665.2" font-size="16" text-anchor="middle" font-weight="normal" >40</text>
<line x1="514.25" y1="639.60" x2="514.25" y2="645.60" stroke="#1e1e1e" stroke-width="1.45"/>
<text x="514.25" y="665.2" font-size="16" text-anchor="middle" font-weight="normal" >50</text>
<text x="435.2" y="683.2" font-size="16.6" text-anchor="middle" font-weight="normal" >Fraction</text>
<text x="345.0" y="28.4" font-size="17.5" text-anchor="start" font-weight="bold" fill="#000">c</text>
<text x="344.9" y="187.1" font-size="17.5" text-anchor="start" font-weight="bold" fill="#000">d</text>
<text x="344.7" y="344.1" font-size="17.5" text-anchor="start" font-weight="bold" fill="#000">e</text>
<text x="346.7" y="508.4" font-size="17.5" text-anchor="start" font-weight="bold" fill="#000">f</text>
<text transform="translate(285.4,323.7) rotate(-90)" font-size="16.2" text-anchor="middle" textLength="248" lengthAdjust="spacing">Activity (µmol pNP fraction<tspan font-size="9.5" dy="-4.8">-<tspan class="one">1</tspan></tspan><tspan dy="4.8">min</tspan><tspan font-size="9.5" dy="-4.8">-<tspan class="one">1</tspan></tspan><tspan dy="4.8">)</tspan></text>
<text transform="translate(577.4,322.8) rotate(90)" font-size="16.3" text-anchor="middle">NaCl (M)</text>
<path d="M8.55,300.60L7.10,300.60L7.10,291.36Q6.57,291.86 5.73,292.36Q4.88,292.86 4.20,293.12L4.20,291.71Q5.15,291.27 5.88,290.64Q6.61,290.01 6.92,289.41L7.23,288.79L8.55,288.79Z" fill="#1a1a1a" stroke="#1a1a1a" stroke-width="0.35"/>
<path d="M102.11,300.60L100.66,300.60L100.66,291.36Q100.14,291.86 99.29,292.36Q98.44,292.86 97.76,293.12L97.76,291.71Q98.71,291.27 99.44,290.64Q100.18,290.01 100.48,289.41L100.80,288.79L102.11,288.79Z" fill="#1a1a1a" stroke="#1a1a1a" stroke-width="0.35"/>
<path d="M30.63,629.00L29.18,629.00L29.18,619.79Q28.66,620.29 27.81,620.78Q26.97,621.28 26.29,621.54L26.29,620.14Q27.24,619.70 27.97,619.07Q28.70,618.45 29.00,617.84L29.32,617.22L30.63,617.22Z" fill="#1a1a1a" stroke="#1a1a1a" stroke-width="0.35"/>
<path d="M123.83,629.00L122.38,629.00L122.38,619.79Q121.86,620.29 121.02,620.78Q120.17,621.28 119.49,621.54L119.49,620.14Q120.44,619.70 121.17,619.07Q121.90,618.45 122.21,617.84L122.52,617.22L123.83,617.22Z" fill="#1a1a1a" stroke="#1a1a1a" stroke-width="0.35"/>
<path d="M310.55,81.18L309.14,81.18L309.14,72.22Q308.63,72.70 307.81,73.19Q306.99,73.67 306.33,73.92L306.33,72.56Q307.25,72.13 307.96,71.52Q308.67,70.91 308.97,70.33L309.27,69.73L310.55,69.73Z" fill="#1a1a1a" stroke="#1a1a1a" stroke-width="0.35"/>
<path d="M319.45,109.62L318.05,109.62L318.05,100.66Q317.54,101.14 316.72,101.63Q315.90,102.11 315.24,102.36L315.24,101.00Q316.16,100.57 316.87,99.96Q317.58,99.35 317.88,98.77L318.18,98.17L319.45,98.17Z" fill="#1a1a1a" stroke="#1a1a1a" stroke-width="0.35"/>
<path d="M553.36,13.30L551.95,13.30L551.95,4.34Q551.45,4.82 550.63,5.31Q549.81,5.79 549.14,6.04L549.14,4.68Q550.06,4.25 550.78,3.64Q551.49,3.03 551.78,2.45L552.09,1.85L553.36,1.85Z" fill="#1a1a1a" stroke="#1a1a1a" stroke-width="0.35"/>
<path d="M310.55,182.50L309.14,182.50L309.14,173.54Q308.63,174.02 307.81,174.51Q306.99,174.99 306.33,175.24L306.33,173.88Q307.25,173.45 307.96,172.84Q308.67,172.23 308.97,171.65L309.27,171.05L310.55,171.05Z" fill="#1a1a1a" stroke="#1a1a1a" stroke-width="0.35"/>
<path d="M319.45,230.50L318.05,230.50L318.05,221.54Q317.54,222.02 316.72,222.51Q315.90,222.99 315.24,223.24L315.24,221.88Q316.16,221.45 316.87,220.84Q317.58,220.23 317.88,219.65L318.18,219.05L319.45,219.05Z" fill="#1a1a1a" stroke="#1a1a1a" stroke-width="0.35"/>
<path d="M553.36,178.10L551.95,178.10L551.95,169.14Q551.45,169.62 550.63,170.11Q549.81,170.59 549.14,170.84L549.14,169.48Q550.06,169.05 550.78,168.44Q551.49,167.83 551.78,167.25L552.09,166.65L553.36,166.65Z" fill="#1a1a1a" stroke="#1a1a1a" stroke-width="0.35"/>
<path d="M319.45,452.20L318.05,452.20L318.05,443.24Q317.54,443.72 316.72,444.21Q315.90,444.69 315.24,444.94L315.24,443.58Q316.16,443.15 316.87,442.54Q317.58,441.93 317.88,441.35L318.18,440.75L319.45,440.75Z" fill="#1a1a1a" stroke="#1a1a1a" stroke-width="0.35"/>
<path d="M553.36,338.10L551.95,338.10L551.95,329.14Q551.45,329.62 550.63,330.11Q549.81,330.59 549.14,330.84L549.14,329.48Q550.06,329.05 550.78,328.44Q551.49,327.83 551.78,327.25L552.09,326.65L553.36,326.65Z" fill="#1a1a1a" stroke="#1a1a1a" stroke-width="0.35"/>
<path d="M310.55,560.39L309.14,560.39L309.14,551.43Q308.63,551.91 307.81,552.40Q306.99,552.88 306.33,553.13L306.33,551.77Q307.25,551.34 307.96,550.73Q308.67,550.12 308.97,549.54L309.27,548.94L310.55,548.94Z" fill="#1a1a1a" stroke="#1a1a1a" stroke-width="0.35"/>
<path d="M319.45,588.66L318.05,588.66L318.05,579.70Q317.54,580.18 316.72,580.67Q315.90,581.15 315.24,581.40L315.24,580.04Q316.16,579.61 316.87,579.00Q317.58,578.39 317.88,577.81L318.18,577.21L319.45,577.21Z" fill="#1a1a1a" stroke="#1a1a1a" stroke-width="0.35"/>
<path d="M553.36,498.10L551.95,498.10L551.95,489.14Q551.45,489.62 550.63,490.11Q549.81,490.59 549.14,490.84L549.14,489.48Q550.06,489.05 550.78,488.44Q551.49,487.83 551.78,487.25L552.09,486.65L553.36,486.65Z" fill="#1a1a1a" stroke="#1a1a1a" stroke-width="0.35"/>
<path d="M370.30,665.20L368.90,665.20L368.90,656.24Q368.39,656.72 367.57,657.21Q366.75,657.69 366.09,657.94L366.09,656.58Q367.01,656.15 367.72,655.54Q368.43,654.93 368.73,654.35L369.03,653.75L370.30,653.75Z" fill="#1a1a1a" stroke="#1a1a1a" stroke-width="0.35"/>
<g transform="translate(285.4,323.7) rotate(-90)"><path d="M80.59,-4.80L79.75,-4.80L79.75,-10.12Q79.45,-9.83 78.97,-9.55Q78.48,-9.26 78.08,-9.11L78.08,-9.92Q78.63,-10.17 79.05,-10.53Q79.48,-10.90 79.65,-11.24L79.83,-11.60L80.59,-11.60Z" fill="#1a1a1a" stroke="#1a1a1a" stroke-width="0.35"/></g>
<g transform="translate(285.4,323.7) rotate(-90)"><path d="M116.57,-4.80L115.74,-4.80L115.74,-10.12Q115.43,-9.83 114.95,-9.55Q114.46,-9.26 114.07,-9.11L114.07,-9.92Q114.61,-10.17 115.04,-10.53Q115.46,-10.90 115.63,-11.24L115.81,-11.60L116.57,-11.60Z" fill="#1a1a1a" stroke="#1a1a1a" stroke-width="0.35"/></g>
</svg></body></html>
